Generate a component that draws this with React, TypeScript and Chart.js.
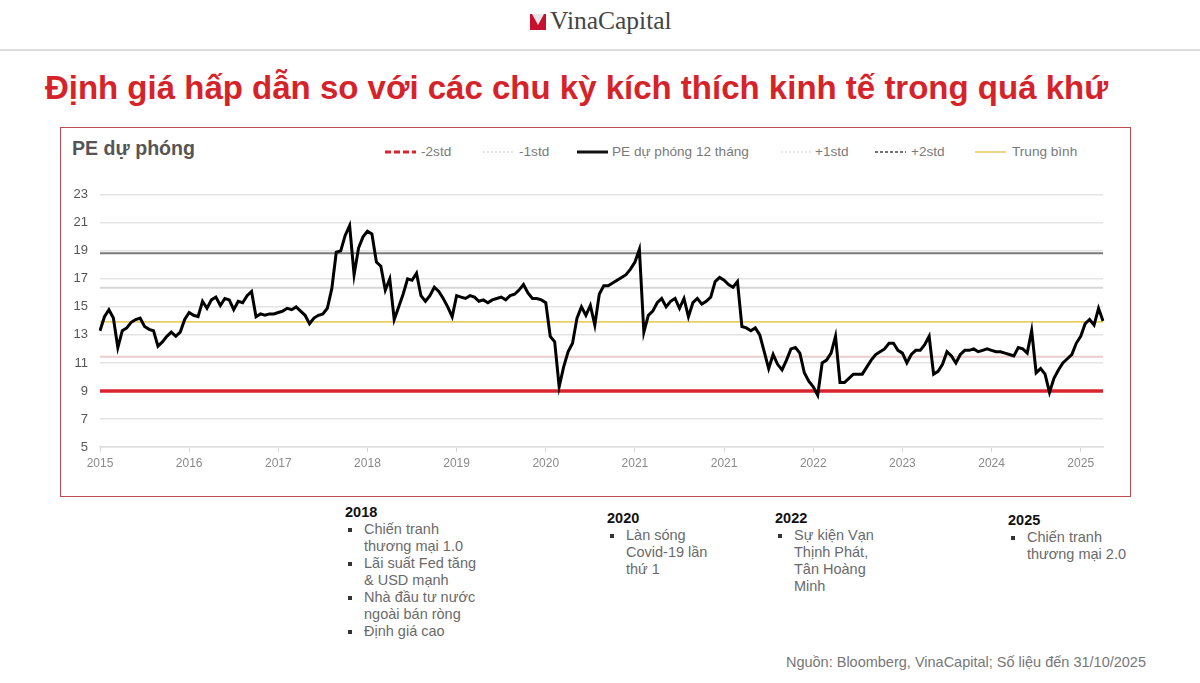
import React, { useEffect, useRef } from "react";
import { Chart, registerables } from "chart.js";

Chart.register(...registerables);

// ---------- DATA ----------
const YEAR_LABELS = ["2015", "2016", "2017", "2018", "2019", "2020", "2021", "2021", "2022", "2023", "2024", "2025"];
const POINTS_PER_LABEL = 20;

const PE_FORWARD = [
  13.3, 14.3, 14.8, 14.2, 12.1, 13.3, 13.5, 13.9, 14.1, 14.2,
  13.6, 13.4, 13.3, 12.2, 12.5, 12.9, 13.2, 12.9, 13.2, 14.1,
  14.6, 14.4, 14.3, 15.4, 14.9, 15.5, 15.7, 15.1, 15.6, 15.5,
  14.8, 15.4, 15.3, 15.8, 16.1, 14.3, 14.5, 14.4, 14.5, 14.5,
  14.6, 14.7, 14.9, 14.8, 15.0, 14.7, 14.4, 13.8, 14.2, 14.4,
  14.5, 14.9, 16.3, 18.9, 19.0, 20.1, 20.8, 17.3, 19.2, 20.0,
  20.4, 20.2, 18.2, 17.9, 16.2, 17.0, 14.1, 15.0, 15.9, 17.0,
  16.9, 17.4, 15.8, 15.4, 15.8, 16.4, 16.1, 15.6, 15.0, 14.3,
  15.8, 15.7, 15.6, 15.8, 15.7, 15.4, 15.5, 15.3, 15.5, 15.6,
  15.7, 15.5, 15.8, 15.9, 16.2, 16.6, 16.0, 15.6, 15.6, 15.5,
  15.3, 12.9, 12.5, 9.3, 10.7, 11.8, 12.4, 14.2, 15.0, 14.4,
  15.1, 13.7, 15.9, 16.5, 16.5, 16.7, 16.9, 17.1, 17.3, 17.7,
  18.2, 19.1, 13.2, 14.4, 14.7, 15.3, 15.6, 15.0, 15.4, 15.6,
  14.9, 15.6, 14.3, 15.3, 15.6, 15.2, 15.4, 15.7, 16.8, 17.1,
  16.9, 16.6, 16.4, 16.8, 13.6, 13.5, 13.3, 13.5, 13.0, 11.8,
  10.6, 11.6, 10.9, 10.5, 11.2, 12.0, 12.1, 11.7, 10.3, 9.7,
  9.3, 8.7, 11.0, 11.2, 11.7, 12.9, 9.6, 9.6, 9.9, 10.2,
  10.2, 10.2, 10.7, 11.2, 11.6, 11.8, 12.0, 12.4, 12.4, 11.9,
  11.7, 11.0, 11.6, 11.9, 11.9, 12.3, 12.9, 10.2, 10.4, 10.9,
  11.8, 11.5, 11.0, 11.6, 11.9, 11.9, 12.0, 11.8, 11.9, 12.0,
  11.9, 11.8, 11.8, 11.7, 11.6, 11.5, 12.1, 12.0, 11.7, 13.3,
  10.3, 10.6, 10.2, 8.9, 9.9, 10.5, 11.0, 11.3, 11.6, 12.4,
  12.9, 13.8, 14.1, 13.7, 14.9, 14.0,
];

const MINUS_2STD = 9.0;
const MINUS_1STD = 11.45;
const MEAN = 13.93;
const PLUS_1STD = 16.37;
const PLUS_2STD = 18.83;

const Y_MIN = 5;
const Y_MAX = 23;
const Y_STEP = 2;

const NOTES = [
  { year: "2018", items: [["Chiến tranh", "thương mại 1.0"], ["Lãi suất Fed tăng", "& USD mạnh"], ["Nhà đầu tư nước", "ngoài bán ròng"], ["Định giá cao"]] },
  { year: "2020", items: [["Làn sóng", "Covid-19 lần", "thứ 1"]] },
  { year: "2022", items: [["Sự kiện Vạn", "Thịnh Phát,", "Tân Hoàng", "Minh"]] },
  { year: "2025", items: [["Chiến tranh", "thương mại 2.0"]] },
];

const FONT = '"Liberation Sans", Arial, Helvetica, sans-serif';

const NOTE_POS = [
  { left: 345, top: 503 },
  { left: 607, top: 509 },
  { left: 775, top: 509 },
  { left: 1008, top: 511 },
];

function LegendGlyph({ color, width, dash }: { color: string; width: number; dash?: string }) {
  return (
    <svg width={31} height={8} style={{ display: "block" }}>
      <line x1={0} y1={4} x2={31} y2={4} stroke={color} strokeWidth={width} strokeDasharray={dash} />
    </svg>
  );
}

export default function App() {
  const canvasRef = useRef<HTMLCanvasElement>(null);

  useEffect(() => {
    const refLines = [
      { v: MINUS_1STD, color: "#ebcdd0", w: 2 },
      { v: PLUS_1STD, color: "#d6d6d6", w: 2 },
      { v: MEAN, color: "#e8cf63", w: 1.6 },
      { v: PLUS_2STD, color: "#7b7b7b", w: 2 },
      { v: MINUS_2STD, color: "#d9232e", w: 3.5 },
    ];
    const refPlugin = {
      id: "refLines",
      beforeDatasetsDraw(chart: any) {
        const { ctx, chartArea, scales } = chart;
        ctx.save();
        for (const r of refLines) {
          const y = scales.y.getPixelForValue(r.v);
          ctx.beginPath();
          ctx.strokeStyle = r.color;
          ctx.lineWidth = r.w;
          ctx.moveTo(chartArea.left, y);
          ctx.lineTo(chartArea.right, y);
          ctx.stroke();
        }
        ctx.restore();
      },
    };

    const chart = new Chart(canvasRef.current as HTMLCanvasElement, {
      type: "line",
      data: {
        labels: PE_FORWARD.map((_, i) => String(i)),
        datasets: [
          {
            label: "PE dự phóng 12 tháng",
            data: PE_FORWARD,
            borderColor: "#000000",
            borderWidth: 3,
            pointRadius: 0,
            tension: 0,
            fill: false,
          },
        ],
      },
      options: {
        responsive: false,
        animation: false,
        layout: { padding: { top: 18, right: 27, bottom: 0, left: 0 } },
        plugins: { legend: { display: false }, tooltip: { enabled: false } },
        scales: {
          x: {
            type: "category",
            offset: false,
            afterFit(scale: any) {
              scale.height = 43;
            },
            grid: { drawOnChartArea: false, drawTicks: true, tickLength: 5, color: "#d8d8d8" },
            border: { display: true, color: "#dedede", width: 1.5 },
            ticks: {
              autoSkip: false,
              maxRotation: 0,
              padding: 4,
              color: "#8a8a8a",
              font: { family: FONT, size: 12 },
              callback: (_v: any, index: number) =>
                index % POINTS_PER_LABEL === 0 ? YEAR_LABELS[index / POINTS_PER_LABEL] : null,
            },
          },
          y: {
            min: Y_MIN,
            max: Y_MAX,
            afterFit(scale: any) {
              scale.width = 40;
            },
            grid: { color: "#e4e4e4", lineWidth: 1.5, drawTicks: false },
            border: { display: false },
            ticks: {
              stepSize: Y_STEP,
              padding: 12,
              color: "#555555",
              font: { family: FONT, size: 13 },
            },
          },
        },
      },
      plugins: [refPlugin],
    } as any);
    return () => chart.destroy();
  }, []);

  const legend = [
    { left: 385, textLeft: 421, label: "-2std", glyph: <LegendGlyph color="#d9232e" width={3} dash="6 3" /> },
    { left: 483, textLeft: 519, label: "-1std", glyph: <LegendGlyph color="#c8c8c8" width={1} dash="2 2" /> },
    { left: 577, textLeft: 612, label: "PE dự phóng 12 tháng", glyph: <LegendGlyph color="#111" width={3} /> },
    { left: 781, textLeft: 815, label: "+1std", glyph: <LegendGlyph color="#cfcfcf" width={1} dash="2 2" /> },
    { left: 875, textLeft: 911, label: "+2std", glyph: <LegendGlyph color="#444" width={1.5} dash="3 2" /> },
    { left: 975, textLeft: 1012, label: "Trung bình", glyph: <LegendGlyph color="#e8cf63" width={1.6} /> },
  ];

  return (
    <div
      style={{
        position: "fixed",
        left: 0,
        top: 0,
        width: 1200,
        height: 683,
        background: "#ffffff",
        overflow: "hidden",
        fontFamily: FONT,
      }}
    >
      {/* header */}
      <svg width={16} height={16} style={{ position: "absolute", left: 530, top: 14 }}>
        <rect x={0} y={0} width={16} height={16} fill="#c8102e" />
        <polygon points="2,0 14,0 8,11" fill="#e8e8e8" />
      </svg>
      <div
        style={{
          position: "absolute",
          left: 550,
          top: 6,
          fontFamily: '"Liberation Serif", "DejaVu Serif", serif',
          fontSize: 25.5,
          lineHeight: "30px",
          color: "#444",
        }}
      >
        VinaCapital
      </div>
      <div style={{ position: "absolute", left: 0, top: 49, width: 1200, height: 1.5, background: "#dddddd" }} />

      {/* title */}
      <div
        style={{
          position: "absolute",
          left: 0,
          top: 68,
          width: 1153,
          textAlign: "center",
          fontSize: 33,
          lineHeight: "40px",
          fontWeight: 700,
          color: "#d6232a",
          whiteSpace: "nowrap",
        }}
      >
        Định giá hấp dẫn so với các chu kỳ kích thích kinh tế trong quá khứ
      </div>

      {/* chart frame */}
      <div
        style={{
          position: "absolute",
          left: 60,
          top: 127,
          width: 1071,
          height: 370,
          border: "1.5px solid #be4b50",
          boxSizing: "border-box",
        }}
      />
      <div
        style={{
          position: "absolute",
          left: 72,
          top: 136,
          fontSize: 19.6,
          lineHeight: "24px",
          fontWeight: 700,
          color: "#555",
        }}
      >
        PE dự phóng
      </div>

      {legend.map((l, i) => (
        <React.Fragment key={i}>
          <div style={{ position: "absolute", left: l.left, top: 148 }}>{l.glyph}</div>
          <div
            style={{
              position: "absolute",
              left: l.textLeft,
              top: 144,
              fontSize: 13.6,
              lineHeight: "16px",
              color: "#7a7a7a",
              whiteSpace: "nowrap",
            }}
          >
            {l.label}
          </div>
        </React.Fragment>
      ))}

      <canvas
        ref={canvasRef}
        width={1070}
        height={315}
        style={{ position: "absolute", left: 60, top: 175, width: 1070, height: 315 }}
      />

      {/* notes */}
      {NOTES.map((n, i) => (
        <div key={n.year} style={{ position: "absolute", left: NOTE_POS[i].left, top: NOTE_POS[i].top }}>
          <div style={{ fontSize: 14.5, lineHeight: "18px", fontWeight: 700, color: "#111" }}>{n.year}</div>
          {n.items.map((item, j) => (
            <div key={j} style={{ position: "relative", paddingLeft: 19 }}>
              <div
                style={{
                  position: "absolute",
                  left: 3,
                  top: 7,
                  width: 4,
                  height: 4,
                  background: "#333",
                }}
              />
              {item.map((line, k) => (
                <div key={k} style={{ fontSize: 14.5, lineHeight: "17px", color: "#6a6a6a", whiteSpace: "nowrap" }}>
                  {line}
                </div>
              ))}
            </div>
          ))}
        </div>
      ))}

      {/* source */}
      <div
        style={{
          position: "absolute",
          right: 54,
          top: 653,
          fontSize: 14.5,
          lineHeight: "18px",
          color: "#777",
          whiteSpace: "nowrap",
        }}
      >
        Nguồn: Bloomberg, VinaCapital; Số liệu đến 31/10/2025
      </div>
    </div>
  );
}
